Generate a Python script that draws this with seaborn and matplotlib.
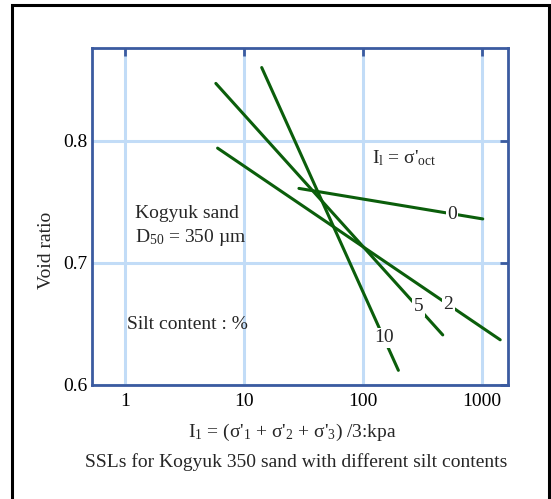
import matplotlib
matplotlib.use("Agg")
import matplotlib.pyplot as plt
import seaborn as sns
import pandas as pd
from matplotlib.patches import Rectangle

# ---- data ----
silt = ["0", "2", "5", "10"]
x_start = [29.0, 6.0, 5.8, 14.1]
x_end = [1020.0, 1430.0, 470.0, 199.0]
e_start = [0.761, 0.794, 0.847, 0.860]
e_end = [0.736, 0.637, 0.641, 0.612]
label_x = [560.0, 524.0, 293.0, 151.0]
label_y = [0.740, 0.6656, 0.664, 0.6385]
xticks = [1, 10, 100, 1000]
xticklabels = ["1", "10", "100", "1000"]
yticks = [0.6, 0.7, 0.8]
yticklabels = ["0.6", "0.7", "0.8"]

rows = []
for s, x0, x1, y0, y1 in zip(silt, x_start, x_end, e_start, e_end):
    rows.append({"silt": s, "I1": x0, "e": y0})
    rows.append({"silt": s, "I1": x1, "e": y1})
df = pd.DataFrame(rows)

sns.set_style("white")
plt.rcParams["font.family"] = ["Liberation Serif", "DejaVu Serif"]
plt.rcParams["mathtext.fontset"] = "custom"
plt.rcParams["mathtext.rm"] = "Liberation Serif"
plt.rcParams["mathtext.it"] = "Liberation Serif:italic"
plt.rcParams["mathtext.bf"] = "Liberation Serif:bold"

GREEN = "#0b5e0b"
FRAME = "#3b5ba0"
GRID = "#c2dcf7"
FS = 14

fig = plt.figure(figsize=(5.51, 4.99), dpi=100)
ax = fig.add_axes([0.167, 0.2285, 0.755, 0.6753])

sns.lineplot(data=df, x="I1", y="e", hue="silt", palette=[GREEN] * 4,
             legend=False, linewidth=2.2, ax=ax, zorder=3)

ax.set_xscale("log")
ax.set_xlim(0.527, 1664)
ax.set_ylim(0.6, 0.876)
ax.set_xticks(xticks)
ax.set_xticklabels(xticklabels)
ax.set_yticks(yticks)
ax.set_yticklabels(yticklabels)
ax.minorticks_off()
ax.grid(True, color=GRID, linewidth=2.2, zorder=0)
ax.set_axisbelow(True)
for sp in ax.spines.values():
    sp.set_color(FRAME)
    sp.set_linewidth(2.0)
ax.tick_params(axis="both", which="major", direction="in", length=6, width=2.0,
               color=FRAME, top=True, right=True, labelsize=FS, labelcolor="black")
ax.tick_params(axis="x", pad=6)
ax.tick_params(axis="y", pad=3)
ax.set_xlabel("")
ax.set_ylabel("")

for s, lx, ly in zip(silt, label_x, label_y):
    ax.text(lx, ly, s, fontsize=FS, ha="center", va="center", zorder=4,
            bbox=dict(facecolor="white", edgecolor="none", pad=1.0))

ax.text(118.8, 0.7817,
        "$\\text{I}_{\\text{l}}\\text{ = \u03c3'}_{\\text{oct}}$",
        fontsize=FS, ha="left", va="baseline")
ax.text(1.21, 0.7366, "Kogyuk sand", fontsize=FS, ha="left", va="baseline")
ax.text(1.21, 0.7175, "$\\text{D}_{\\text{50}}\\text{ = 350 \u00b5m}$",
        fontsize=FS, ha="left", va="baseline")
ax.text(1.04, 0.6457, "Silt content : %", fontsize=FS, ha="left", va="baseline")

fig.text(0.085, 0.499, "Void ratio", rotation=90, fontsize=FS,
         ha="center", va="center")
xlab = ("$\\text{I}_{\\text{1}}\\text{ = (\u03c3'}_{\\text{1}}"
        "\\text{ + \u03c3'}_{\\text{2}}\\text{ + \u03c3'}_{\\text{3}}"
        "\\text{) /3:kpa}$")
fig.text(0.53, 0.134, xlab, fontsize=FS, ha="center", va="center")
fig.text(0.537, 0.074, "SSLs for Kogyuk 350 sand with different silt contents",
         fontsize=FS, ha="center", va="center")

fig.patches.append(Rectangle((0.0218, -0.05), 0.9746, 1.04,
                             transform=fig.transFigure, fill=False,
                             edgecolor="black", linewidth=2.2))

fig.savefig("out.png", dpi=100)
